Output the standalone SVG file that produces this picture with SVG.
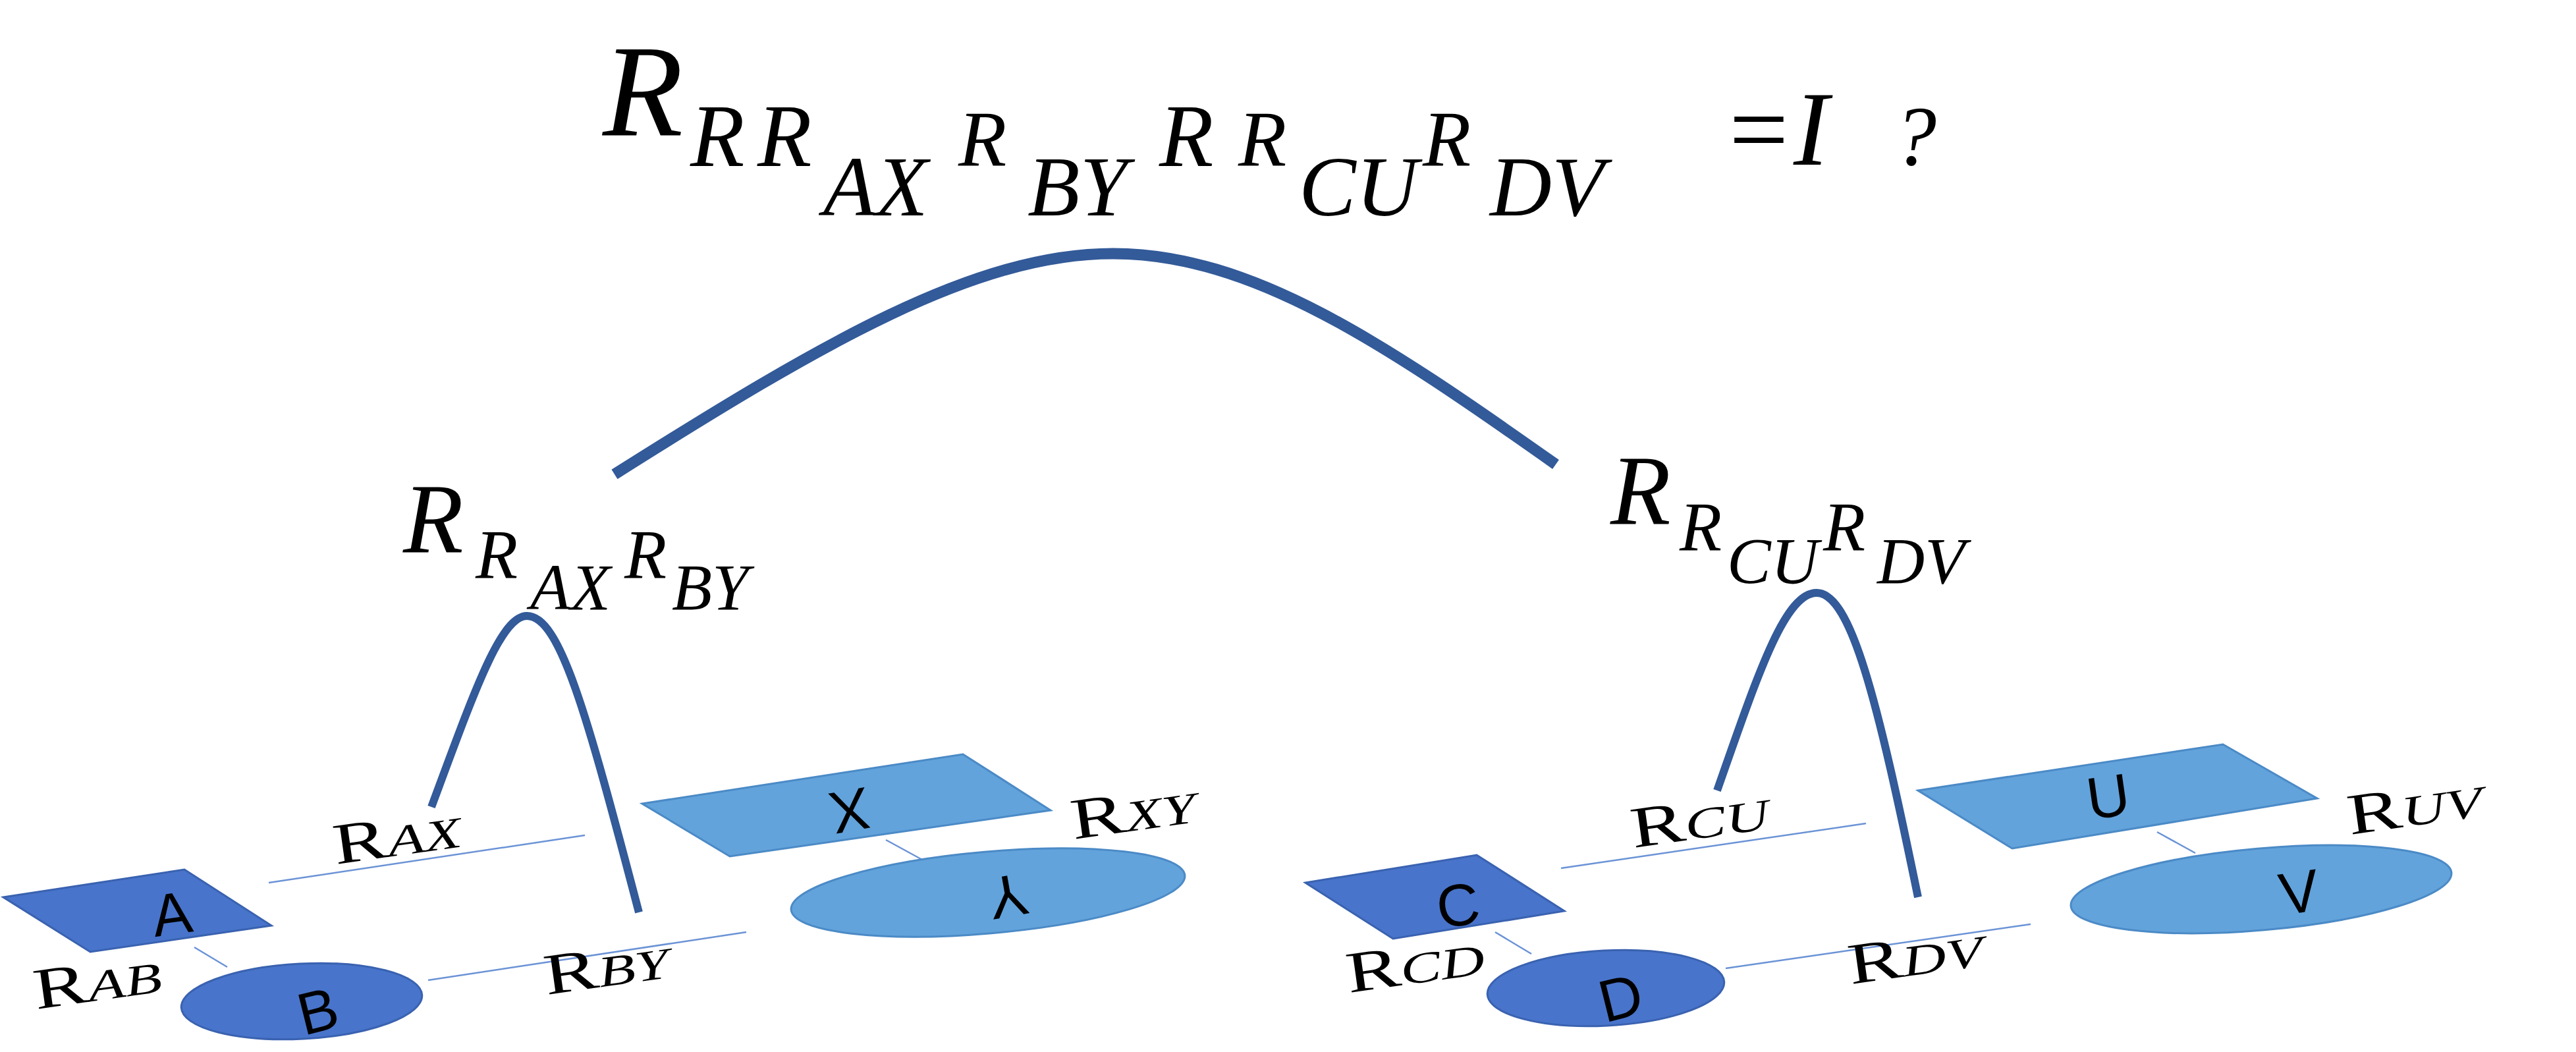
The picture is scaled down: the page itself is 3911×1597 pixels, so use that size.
<svg xmlns="http://www.w3.org/2000/svg" width="3911" height="1597" viewBox="0 0 3911 1597">
<style>
.m{font-family:"Liberation Serif",serif;font-style:italic;fill:#000}
.e{font-family:"Liberation Serif",serif;fill:#000;font-size:88px}
.es{font-family:"Liberation Serif",serif;font-style:italic;fill:#000;font-size:66px}
.n{font-family:"Liberation Sans",sans-serif;font-size:90px;fill:#000;text-anchor:middle}
.dk{fill:#4874CB;stroke:#3A62B0;stroke-width:3}
.lt{fill:#62A3DC;stroke:#4B8AC6;stroke-width:3}
.arc{fill:none;stroke:#335A99}
.ln{stroke:#6B93D6;stroke-width:2.5}
</style>
<rect width="3911" height="1597" fill="#fff"/>
<g id="title">
<text class="m" x="915" y="205" font-size="200">R</text>
<text class="m" x="1048" y="252" font-size="135">R</text>
<text class="m" x="1150" y="252" font-size="135">R</text>
<text class="m" x="1250" y="327" font-size="130">AX</text>
<text class="m" x="1455" y="252" font-size="120">R</text>
<text class="m" x="1560" y="327" font-size="130">BY</text>
<text class="m" x="1760" y="252" font-size="135">R</text>
<text class="m" x="1880" y="252" font-size="120">R</text>
<text class="m" x="1972" y="327" font-size="130">CU</text>
<text class="m" x="2160" y="252" font-size="120">R</text>
<text class="m" x="2262" y="327" font-size="130">DV</text>
<text class="m" x="2615" y="250" font-size="160" font-style="normal">=<tspan font-style="italic">I</tspan></text>
<text class="m" x="2875" y="250" font-size="130" font-style="normal">?</text>
</g>
<g id="connectors">
<path class="arc" stroke-width="17" d="M933 720 C1250 520 1480 385 1690 385 C1900 385 2100 520 2362 705"/>
<path class="arc" stroke-width="12" d="M655 1225 C720 1050 760 935 800 935 C850 935 890 1080 970 1385"/>
<path class="arc" stroke-width="12" d="M2607 1200 C2670 1020 2710 900 2758 900 C2810 900 2850 1060 2912 1362"/>
<line class="ln" x1="408" y1="1340" x2="888" y2="1268"/>
<line class="ln" x1="650" y1="1488" x2="1133" y2="1415"/>
<line class="ln" x1="295" y1="1438" x2="345" y2="1468"/>
<line class="ln" x1="1345" y1="1275" x2="1400" y2="1305"/>
<line class="ln" x1="2370" y1="1318" x2="2833" y2="1250"/>
<line class="ln" x1="2620" y1="1470" x2="3083" y2="1403"/>
<line class="ln" x1="2270" y1="1415" x2="2325" y2="1448"/>
<line class="ln" x1="3275" y1="1263" x2="3333" y2="1295"/>
</g>
<g id="labelL">
<text class="m" x="612" y="838" font-size="150">R</text>
<text class="m" x="722" y="877" font-size="105">R</text>
<text class="m" x="805" y="925" font-size="100">AX</text>
<text class="m" x="948" y="877" font-size="105">R</text>
<text class="m" x="1020" y="925" font-size="100">BY</text>
</g>
<g id="labelR">
<text class="m" x="2445" y="795" font-size="150">R</text>
<text class="m" x="2550" y="835" font-size="105">R</text>
<text class="m" x="2622" y="885" font-size="100">CU</text>
<text class="m" x="2768" y="835" font-size="105">R</text>
<text class="m" x="2850" y="885" font-size="100">DV</text>
</g>
<g id="A"><polygon class="dk" points="5,1362 280,1320 412,1405 137,1445"/><text class="n" transform="translate(265,1418) rotate(-8)">A</text></g>
<g id="B"><ellipse class="dk" cx="458" cy="1520" rx="183" ry="57" transform="rotate(-3 458 1520)"/><text class="n" transform="translate(490,1565) rotate(-14)">B</text></g>
<g id="X"><polygon class="lt" points="975,1220 1462,1145 1595,1230 1108,1300"/><text class="n" transform="translate(1285,1200) rotate(170)">X</text></g>
<g id="Y"><ellipse class="lt" cx="1500" cy="1355" rx="300" ry="62" transform="rotate(-5 1500 1355)"/><text class="n" transform="translate(1525,1330) rotate(170)">Y</text></g>
<g id="C"><polygon class="dk" points="1982,1340 2242,1298 2375,1383 2115,1425"/><text class="n" transform="translate(2218,1405) rotate(-8)">C</text></g>
<g id="D"><ellipse class="dk" cx="2438" cy="1500" rx="180" ry="57" transform="rotate(-3 2438 1500)"/><text class="n" transform="translate(2468,1545) rotate(-14)">D</text></g>
<g id="U"><polygon class="lt" points="2912,1200 3375,1130 3518,1212 3055,1288"/><text class="n" transform="translate(3205,1240) rotate(-8)">U</text></g>
<g id="V"><ellipse class="lt" cx="3433" cy="1350" rx="290" ry="62" transform="rotate(-5 3433 1350)"/><text class="n" transform="translate(3495,1385) rotate(-8)">V</text></g>
<g id="edgeLabels">
<text transform="translate(510,1312) rotate(-8) scale(1.4,1)"><tspan class="e">R</tspan><tspan class="es">AX</tspan></text>
<text transform="translate(830,1510) rotate(-8) scale(1.4,1)"><tspan class="e">R</tspan><tspan class="es">BY</tspan></text>
<text transform="translate(55,1532) rotate(-8) scale(1.4,1)"><tspan class="e">R</tspan><tspan class="es">AB</tspan></text>
<text transform="translate(1630,1274) rotate(-8) scale(1.4,1)"><tspan class="e">R</tspan><tspan class="es">XY</tspan></text>
<text transform="translate(2480,1287) rotate(-8) scale(1.4,1)"><tspan class="e">R</tspan><tspan class="es">CU</tspan></text>
<text transform="translate(2810,1494) rotate(-8) scale(1.4,1)"><tspan class="e">R</tspan><tspan class="es">DV</tspan></text>
<text transform="translate(2048,1507) rotate(-8) scale(1.4,1)"><tspan class="e">R</tspan><tspan class="es">CD</tspan></text>
<text transform="translate(3568,1267) rotate(-8) scale(1.4,1)"><tspan class="e">R</tspan><tspan class="es">UV</tspan></text>
</g>
</svg>
